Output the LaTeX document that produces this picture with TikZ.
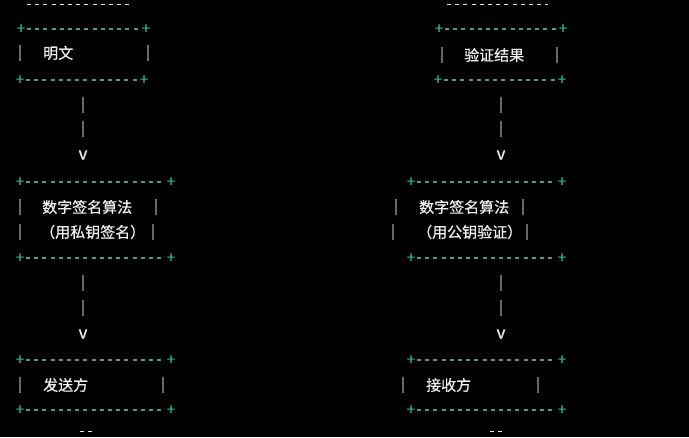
\documentclass[tikz,border=0pt]{standalone}
\usepackage{fontspec}
\usepackage{tikz}
\newfontfamily\cjk[FakeBold=0.6]{Noto Sans CJK SC}

\definecolor{plusgreen}{HTML}{2EB47E}
\definecolor{dashgreen}{HTML}{4F9C86}
\definecolor{txtwhite}{HTML}{EEEEEE}

\tikzset{
  lbl/.style={text=txtwhite, font=\cjk\fontsize{15}{18}\selectfont, anchor=west, inner sep=0pt},
  bar/.style={text=txtwhite, font=\cjk\fontsize{14}{16}\selectfont, inner sep=0pt},
  corner/.style={text=plusgreen, font=\cjk\fontsize{15}{16}\selectfont, inner sep=0pt},
  border/.style={dashgreen, line width=1.3pt, dash pattern=on 4pt off 4.2pt},
  faint/.style={gray!18, line width=0.8pt, dash pattern=on 4pt off 4.2pt}
}

\begin{document}
\begin{tikzpicture}[x=1pt, y=-1pt]
        \fill[black] (0,0) rectangle (689,437);
        \useasboundingbox (0,0) rectangle (689,437);
        % cut-off rows at the edges
        \draw[faint] (27,4) -- (130,4);
        \draw[faint] (447,4) -- (548,4);
        \draw[faint] (80,431) -- (96,431);
        \draw[faint] (490,431) -- (506,431);
        % box borders
        \foreach \xa/\xb/\y in {21/146/29, 20/144/80, 20/171/182, 20/171/258, 20/171/360, 20/171/410,
                                439/563/29, 438/562/80, 411/562/182, 411/562/258, 411/562/360, 411/562/410} {
          \draw[border] (\xa+6,\y) -- (\xb-6,\y);
          \node[corner] at (\xa,\y) {+};
          \node[corner] at (\xb,\y) {+};
        }
        % side bars
        \foreach \x/\y in {20/53, 148/53, 20/207, 156/207, 20/232, 153/232, 20/385, 163/385,
                           442/55, 557/55, 396/207, 523/207, 393/232, 527/232, 403/385, 538/385} {
          \node[bar] at (\x,\y) {|};
        }
        % labels
        \node[lbl] (plain) at (43,53) {明文};
        \node[lbl] (signalg) at (42,207) {数字签名算法};
        \node[lbl] (signkey) at (40,232) {（用私钥签名）};
        \node[lbl] (sender) at (43,385) {发送方};
        \node[lbl] (result) at (464,55) {验证结果};
        \node[lbl] (veralg) at (419,207) {数字签名算法};
        \node[lbl] (verkey) at (417,232) {（用公钥验证）};
        \node[lbl] (receiver) at (426,385) {接收方};
        % arrows
        \coordinate (plain-bot) at (83,80);
        \coordinate (sign-top) at (83,182);
        \coordinate (sign-bot) at (83,258);
        \coordinate (sender-top) at (83,360);
        \coordinate (result-bot) at (501,80);
        \coordinate (ver-top) at (501,182);
        \coordinate (ver-bot) at (501,258);
        \coordinate (receiver-top) at (501,360);
        \path (plain-bot) -- (sign-top) node[bar, pos=0.245] {|} node[bar, pos=0.48] {|}
          node[bar, pos=0.735, font=\cjk\fontsize{17}{18}\selectfont] {v};
        \path (sign-bot) -- (sender-top) node[bar, pos=0.245] {|} node[bar, pos=0.49] {|}
          node[bar, pos=0.745, font=\cjk\fontsize{17}{18}\selectfont] {v};
        \path (result-bot) -- (ver-top) node[bar, pos=0.245] {|} node[bar, pos=0.48] {|}
          node[bar, pos=0.735, font=\cjk\fontsize{17}{18}\selectfont] {v};
        \path (ver-bot) -- (receiver-top) node[bar, pos=0.245] {|} node[bar, pos=0.49] {|}
          node[bar, pos=0.745, font=\cjk\fontsize{17}{18}\selectfont] {v};
\end{tikzpicture}
\end{document}
